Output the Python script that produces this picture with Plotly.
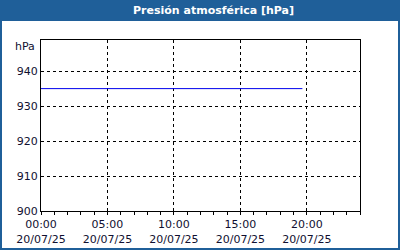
import plotly.graph_objects as go

times = ["2025-07-20 00:00", "2025-07-20 02:00", "2025-07-20 04:00", "2025-07-20 06:00",
         "2025-07-20 08:00", "2025-07-20 10:00", "2025-07-20 12:00", "2025-07-20 14:00",
         "2025-07-20 16:00", "2025-07-20 18:00", "2025-07-20 19:40"]
pressure = [935.0, 935.0, 935.0, 935.0, 935.0, 935.0, 935.0, 935.0, 935.0, 935.0, 935.0]
tick_vals = ["2025-07-20 00:00", "2025-07-20 05:00", "2025-07-20 10:00",
             "2025-07-20 15:00", "2025-07-20 20:00"]
tick_text = ["00:00<br>20/07/25", "05:00<br>20/07/25", "10:00<br>20/07/25",
             "15:00<br>20/07/25", "20:00<br>20/07/25"]
y_ticks = [900, 910, 920, 930, 940]
title = "Presión atmosférica [hPa]"
unit = "hPa"

W, H = 400, 250
L, R, T, B = 41, 40, 40, 39
pw, ph = W - L - R, H - T - B
def px(x): return (x - L) / pw
def py(y): return (H - B - y) / ph

blue = "#1f5f99"
txt = "#101030"
font = "DejaVu Sans"

fig = go.Figure()
fig.add_trace(go.Scatter(x=times, y=pressure, mode="lines",
                         line=dict(color="#0000ee", width=1), hoverinfo="skip"))

fig.update_layout(
    width=W, height=H, margin=dict(l=L, r=R, t=T, b=B, autoexpand=False),
    paper_bgcolor="white", plot_bgcolor="white", showlegend=False,
    font=dict(family=font, size=11, color=txt),
    xaxis=dict(range=["2025-07-20 00:00", "2025-07-21 00:00"], tickmode="array",
               tickvals=tick_vals, ticktext=tick_text, ticks="outside", ticklen=3,
               tickcolor="black", showgrid=True, gridcolor="black", griddash="3px,3px",
               gridwidth=1, showline=True, linecolor="black", linewidth=1, mirror=True,
               zeroline=False, automargin=False,
               tickfont=dict(family=font, size=11, color=txt),
               minor=dict(dtick=3600000, ticks="outside", ticklen=3, tickcolor="black",
                          showgrid=False, tick0="2025-07-20 00:00")),
    yaxis=dict(range=[900, 948.9], tickmode="array", tickvals=y_ticks,
               ticks="", showgrid=True, gridcolor="black", griddash="3px,3px",
               gridwidth=1, showline=True, linecolor="black", linewidth=1, mirror=True,
               zeroline=False, automargin=False,
               tickfont=dict(family=font, size=11, color=txt)),
    shapes=[
        dict(type="rect", xref="paper", yref="paper", x0=px(0), x1=px(W),
             y0=py(21), y1=py(0), fillcolor=blue, line=dict(width=0), layer="below"),
        dict(type="rect", xref="paper", yref="paper", x0=px(1), x1=px(W - 1),
             y0=py(H - 1), y1=py(1), fillcolor="rgba(0,0,0,0)",
             line=dict(color=blue, width=2)),
    ],
    annotations=[
        dict(text="<b>" + title + "</b>", xref="paper", yref="paper", x=px(213), y=py(10.5),
             xanchor="center", yanchor="middle", showarrow=False,
             font=dict(family=font, size=11, color="white")),
        dict(text=unit, xref="paper", yref="paper", x=px(37), y=py(46),
             xanchor="right", yanchor="middle", showarrow=False,
             font=dict(family=font, size=11, color=txt)),
    ],
)

fig.write_html("out.html")
